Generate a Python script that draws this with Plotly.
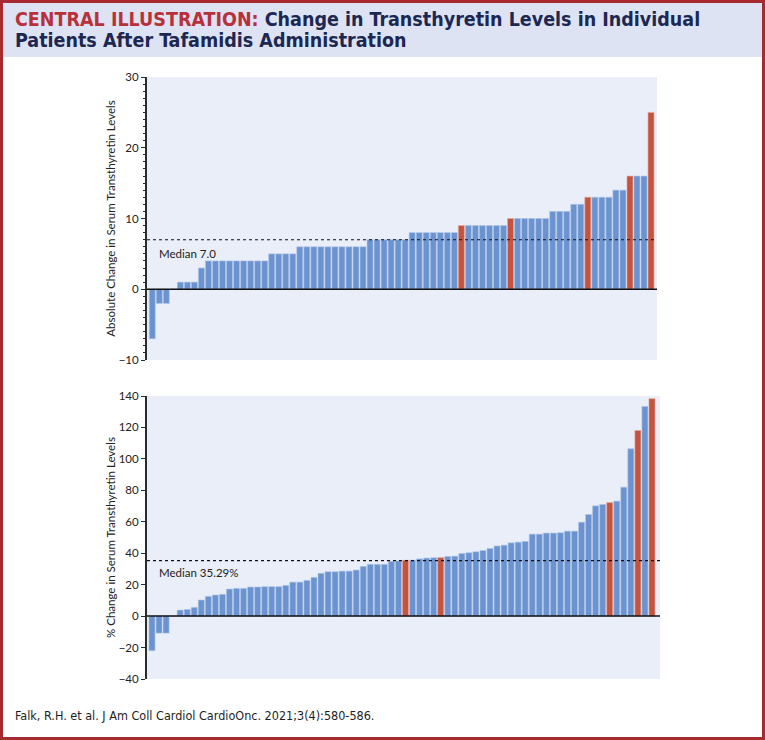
import plotly.graph_objects as go

# ---------------- data ----------------
abs_change = [-7, -2, -2, 0, 1, 1, 1, 3,
              4, 4, 4, 4, 4, 4, 4, 4, 4,
              5, 5, 5, 5,
              6, 6, 6, 6, 6, 6, 6, 6, 6, 6,
              7, 7, 7, 7, 7, 7,
              8, 8, 8, 8, 8, 8, 8,
              9, 9, 9, 9, 9, 9, 9,
              10, 10, 10, 10, 10, 10,
              11, 11, 11,
              12, 12,
              13, 13, 13, 13,
              14, 14,
              16, 16, 16,
              25]
abs_red_idx = [44, 51, 62, 68, 71]
abs_median = 7.0

pct_change = [-22.0, -10.8, -10.8, 0.0, 3.8, 4.2, 5.5, 10.2, 12.5, 13.4,
              13.8, 17.2, 17.6, 17.6, 18.5, 18.5, 18.7, 18.7, 18.7, 19.5,
              21.6, 21.6, 22.7, 24.6, 27.2, 28.2, 28.2, 28.6, 28.6, 29.3,
              31.6, 32.9, 32.9, 32.9, 34.8, 35.08, 35.5, 35.6, 36.4, 36.9,
              37.1, 37.2, 37.9, 38.1, 39.8, 40.3, 40.9, 41.7, 43.0, 44.6,
              45.1, 46.6, 47.0, 47.5, 52.1, 52.1, 52.8, 52.8, 53.0, 54.0,
              54.0, 59.7, 64.6, 70.1, 71.0, 72.2, 73.1, 82.0, 106.4, 118.0,
              133.3, 138.3]
pct_red_idx = [36, 41, 65, 69, 71]
pct_median = 35.29

top_ticks = [-10, 0, 10, 20, 30]
bottom_ticks = [-40, -20, 0, 20, 40, 60, 80, 100, 120, 140]

title_red = "CENTRAL ILLUSTRATION:"
title_line1 = "Change in Transthyretin Levels in Individual"
title_line2 = "Patients After Tafamidis Administration"
citation = "Falk, R.H. et al. J Am Coll Cardiol CardioOnc. 2021;3(4):580-586."
top_ylabel = "Absolute Change in Serum Transthyretin Levels"
bottom_ylabel = "% Change in Serum Transthyretin Levels"

# ---------------- styles ----------------
BLUE = "#6b93cf"
BLUE_EDGE = "#a9c1e8"
RED = "#c35440"
RED_EDGE = "#e8a394"
PLOT_BG = "#e9eef8"
BAND_BG = "#dde3f3"
BORDER = "#a62a30"
NAVY = "#1c2752"
W, H = 765, 740
AX_FONT = "Lato, 'Noto Sans', sans-serif"
TITLE_FONT = "'Liberation Sans Narrow', 'DejaVu Sans Condensed', sans-serif"


def colors(n, red_idx, a, b):
    return [a if i in red_idx else b for i in range(n)]


fig = go.Figure()
fig.add_trace(go.Bar(
    x=list(range(len(abs_change))), y=abs_change,
    marker=dict(color=colors(len(abs_change), abs_red_idx, RED, BLUE),
                line=dict(color=colors(len(abs_change), abs_red_idx, RED_EDGE, BLUE_EDGE), width=0.6)),
    xaxis="x", yaxis="y", showlegend=False, hoverinfo="skip"))
fig.add_trace(go.Bar(
    x=list(range(len(pct_change))), y=pct_change,
    marker=dict(color=colors(len(pct_change), pct_red_idx, RED, BLUE),
                line=dict(color=colors(len(pct_change), pct_red_idx, RED_EDGE, BLUE_EDGE), width=0.6)),
    xaxis="x2", yaxis="y2", showlegend=False, hoverinfo="skip"))


def px_x(p):
    return p / W


def px_y(p):
    return 1 - p / H


axis_common = dict(showgrid=False, zeroline=False, showline=True, linecolor="#2b2b2b",
                   linewidth=2, ticks="outside", ticklen=4, tickwidth=1.2, tickcolor="#2b2b2b",
                   tickfont=dict(family=AX_FONT, size=11.5, color="#222"),
                   title_font=dict(family=AX_FONT, size=11.5, color="#222"),
                   title_standoff=1, automargin=False)

fig.update_layout(
    width=W, height=H,
    margin=dict(l=0, r=0, t=0, b=0, pad=0, autoexpand=False),
    paper_bgcolor="white",
    plot_bgcolor=PLOT_BG,
    bargap=0.15,
    xaxis=dict(domain=[px_x(147), px_x(657)], range=[-0.75, 71.85], visible=False,
               anchor="y", automargin=False),
    yaxis=dict(domain=[px_y(360), px_y(77)], range=[-10, 30], tickvals=top_ticks,
               title_text=top_ylabel,
               minor=dict(dtick=1, ticks="outside", ticklen=2.5, tickcolor="#2b2b2b", showgrid=False),
               anchor="x", **axis_common),
    xaxis2=dict(domain=[px_x(147), px_x(660)], range=[-0.71, 72.14], visible=False,
                anchor="y2", automargin=False),
    yaxis2=dict(domain=[px_y(679), px_y(396)], range=[-40, 140], tickvals=bottom_ticks,
                title_text=bottom_ylabel, anchor="x2", **axis_common),
)

shapes = [
    # title band
    dict(type="rect", xref="paper", yref="paper", x0=0, x1=1, y0=px_y(57), y1=1,
         fillcolor=BAND_BG, line=dict(width=0), layer="below"),
    # zero lines
    dict(type="line", xref="x domain", yref="y", x0=0, x1=1, y0=0, y1=0,
         line=dict(color="#111", width=1.5), layer="above"),
    dict(type="line", xref="x2 domain", yref="y2", x0=0, x1=1, y0=0, y1=0,
         line=dict(color="#111", width=1.5), layer="above"),
    # median lines
    dict(type="line", xref="x domain", yref="y", x0=0, x1=1, y0=abs_median, y1=abs_median,
         line=dict(color="#111", width=1.2, dash="dot"), layer="above"),
    dict(type="line", xref="x2 domain", yref="y2", x0=0, x1=1, y0=pct_median, y1=pct_median,
         line=dict(color="#111", width=1.2, dash="dot"), layer="above"),
    # outer border
    dict(type="rect", xref="paper", yref="paper", x0=px_x(1.5), x1=px_x(W - 1.5),
         y0=px_y(H - 1.5), y1=px_y(1.5), line=dict(color=BORDER, width=3), layer="above"),
]
fig.update_layout(shapes=shapes)

annotations = [
    dict(xref="paper", yref="paper", x=px_x(13), y=px_y(20), xanchor="left", yanchor="middle",
         align="left", showarrow=False,
         text=f"<b><span style='color:#b8303a'>{title_red}</span> {title_line1}</b>",
         font=dict(family=TITLE_FONT, size=19.5, color=NAVY)),
    dict(xref="paper", yref="paper", x=px_x(13), y=px_y(41), xanchor="left", yanchor="middle",
         align="left", showarrow=False, text=f"<b>{title_line2}</b>",
         font=dict(family=TITLE_FONT, size=19.5, color=NAVY)),
    dict(xref="paper", yref="paper", x=px_x(13), y=px_y(715), xanchor="left", yanchor="middle",
         showarrow=False, text=citation,
         font=dict(family=TITLE_FONT, size=12.5, color="#1e1e1e")),
    dict(xref="x domain", yref="y", x=0.02, y=abs_median - 1.9, xanchor="left", yanchor="middle",
         showarrow=False, text=f"Median {abs_median:.1f}",
         font=dict(family=AX_FONT, size=11.5, color="#222")),
    dict(xref="x2 domain", yref="y2", x=0.02, y=pct_median - 7.3, xanchor="left", yanchor="middle",
         showarrow=False, text=f"Median {pct_median:.2f}%",
         font=dict(family=AX_FONT, size=11.5, color="#222")),
]
fig.update_layout(annotations=annotations)

post = ("document.documentElement.style.margin='0px';"
        "document.body.style.margin='0px';document.body.style.padding='0px';"
        "var gd=document.getElementById('{plot_id}');"
        "gd.style.position='fixed';gd.style.left='0px';gd.style.top='0px';")

fig.write_html("out.html", config=dict(displayModeBar=False), post_script=post)
